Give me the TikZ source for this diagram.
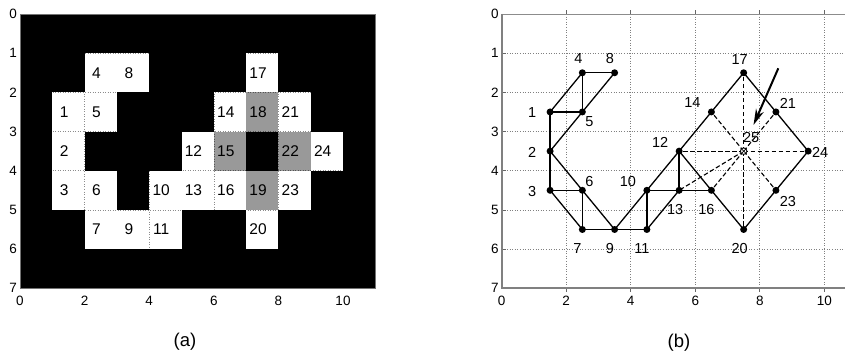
\documentclass[tikz,border=0pt]{standalone}
\usepackage{fontspec}
\setmainfont{Liberation Sans}
\usetikzlibrary{arrows.meta}
\tikzset{
  x=1pt, y=-1pt,
  celltxt/.style={inner sep=0pt, font=\fontsize{15.5}{17}\selectfont},
  ticktxt/.style={inner sep=0pt, font=\fontsize{13.5}{15}\selectfont},
  captxt/.style={inner sep=0pt, font=\fontsize{18.5}{20}\selectfont},
  nodetxt/.style={inner sep=0pt, font=\fontsize{14.5}{16}\selectfont},
  gridA/.style={draw=black, opacity=0.45, dotted, line width=0.5pt},
  gridB/.style={draw=black!50, dotted, line width=0.6pt},
  dot/.style={circle, fill=black, inner sep=0pt, minimum size=7pt},
  hub/.style={circle, draw=black, fill=white, line width=0.9pt, inner sep=0pt, minimum size=6.5pt},
  edge/.style={line width=1.3pt, black},
  dedge/.style={line width=1.1pt, black, dash pattern=on 4.5pt off 2.5pt},
  axisline/.style={draw=black!50, line width=1.6pt},
  tickmark/.style={draw=black!60, line width=0.6pt}
}
\begin{document}
\begin{tikzpicture}
\useasboundingbox (0,0) rectangle (845,358);
\fill[white] (0,0) rectangle (845,358);

% ================= panel (a) =================
\begin{scope}[shift={(20pt,-14pt)}, x=32.3pt, y=-39.18pt]
  \fill[black] (0,0) rectangle (11,7);
  % white cells
  \foreach \c/\r in {2/1,3/1,7/1, 1/2,2/2,6/2,8/2, 1/3,5/3,9/3,
                     1/4,2/4,4/4,5/4,6/4,8/4, 2/5,3/5,4/5,7/5}
    \fill[white] (\c,\r) rectangle ++(1,1);
  % gray cells
  \foreach \c/\r in {7/2, 6/3, 8/3, 7/4}
    \fill[black!40] (\c,\r) rectangle ++(1,1);
  % grid
  \foreach \gx in {2,4,6,8,10} \draw[gridA] (\gx,0) -- (\gx,7);
  \foreach \gy in {1,...,6} \draw[gridA] (0,\gy) -- (11,\gy);
  \draw[draw=black!55, line width=0.6pt] (0,0) rectangle (11,7);
  % cell labels
  \foreach \c/\r/\t in {2/1/4, 3/1/8, 7/1/17,
      1/2/1, 2/2/5, 6/2/14, 7/2/18, 8/2/21,
      1/3/2, 5/3/12, 6/3/15, 8/3/22, 9/3/24,
      1/4/3, 2/4/6, 4/4/10, 5/4/13, 6/4/16, 7/4/19, 8/4/23,
      2/5/7, 3/5/9, 4/5/11, 7/5/20}
    \node[celltxt] (ca\t) at (\c+0.37,\r+0.5) {\t};
  % tick labels
  \foreach \v in {0,...,7}
    \node[ticktxt, anchor=east] (ay\v) at ([xshift=-3pt]0,\v) {\v};
  \foreach \v in {0,2,4,6,8,10}
    \node[ticktxt] (ax\v) at ([yshift=-13pt]\v,7) {\v};
\end{scope}
\node[captxt] (capa) at (185,342) {(a)};

% ================= panel (b) =================
\begin{scope}
\clip (0,0) rectangle (845,358);
\begin{scope}[shift={(501.7pt,-14pt)}, x=32.26pt, y=-39.18pt]
  \foreach \gx in {2,4,6,8,10} \draw[gridB] (\gx,0) -- (\gx,7);
  \foreach \gy in {1,...,6} \draw[gridB] (0,\gy) -- (11,\gy);
  \draw[draw=black!45, line width=0.8pt] (0,0) -- (11,0);
  \foreach \gx in {2,4,6,8,10} {
    \draw[tickmark] (\gx,7) -- ++(0,-4pt);
    \draw[tickmark] (\gx,0) -- ++(0,4pt);
  }
  \foreach \gy in {1,...,6} \draw[tickmark] (0,\gy) -- ++(4pt,0);
  \draw[axisline] (0,0) -- (0,7) -- (11,7);
  % tick labels
  \foreach \v in {0,...,7}
    \node[ticktxt, anchor=east] (by\v) at ([xshift=-3pt]0,\v) {\v};
  \foreach \v in {0,2,4,6,8,10}
    \node[ticktxt] (bx\v) at ([yshift=-13pt]\v,7) {\v};

  % vertices
  \foreach \n/\px/\py in {1/1.5/2.5, 2/1.5/3.5, 3/1.5/4.5, 4/2.5/1.5, 5/2.5/2.5,
      6/2.5/4.5, 7/2.5/5.5, 8/3.5/1.5, 9/3.5/5.5, 10/4.5/4.5, 11/4.5/5.5,
      12/5.5/3.5, 13/5.5/4.5, 14/6.5/2.5, 16/6.5/4.5, 17/7.5/1.5,
      20/7.5/5.5, 21/8.5/2.5, 23/8.5/4.5, 24/9.5/3.5}
    \coordinate (n\n) at (\px,\py);
  \coordinate (n25) at (7.5,3.5);

  % dashed edges to the hub
  \foreach \m in {17,20,12,24,14,23,21,16,13}
    \draw[dedge] (n25) -- (n\m);

  % solid edges
  \foreach \a/\b in {4/8, 1/4, 4/5, 1/5, 5/8, 1/2, 2/3, 2/5, 2/6, 6/9,
      3/6, 3/7, 6/7, 7/9, 9/11, 9/10, 10/12, 10/11, 10/13, 11/13,
      13/16, 12/13, 12/14, 14/17, 12/16, 16/20, 17/21, 21/24, 24/23, 23/20}
    \draw[edge] (n\a) -- (n\b);

  % vertex markers
  \foreach \n in {1,2,3,4,5,6,7,8,9,10,11,12,13,14,16,17,20,21,23,24}
    \node[dot] (d\n) at (n\n) {};
  \node[hub] (d25) at (n25) {};
  \draw[line width=0.7pt] ([shift={(-2.8pt,-2.8pt)}]n25) -- ([shift={(2.8pt,2.8pt)}]n25);
  \draw[line width=0.7pt] ([shift={(-2.8pt,2.8pt)}]n25) -- ([shift={(2.8pt,-2.8pt)}]n25);

  % vertex labels
  \foreach \n/\dx/\dy in {4/-4/14.5, 8/-4.6/14.5, 1/-18/-1, 5/7/-10, 2/-18/-1,
      3/-18/-1, 6/7/9, 7/-5/-19, 9/-4.6/-19, 11/-5/-19, 10/-19/9, 12/-19/8.5,
      13/-4/-19, 16/-5/-19, 14/-19/9, 17/-4/13.5, 21/12/9, 25/7.5/14,
      24/12/-1.5, 23/12/-11, 20/-4/-19}
    \node[nodetxt] (lb\n) at ([shift={(\dx pt,\dy pt)}]n\n) {\n};
\end{scope}
\end{scope}

% arrow pointing at the hub
\coordinate (arrS) at (778.3,68.3);
\coordinate (arrE) at (753.5,125);
\draw[line width=2pt, -{Stealth[length=16pt, width=8.5pt]}] (arrS) -- (arrE);

\node[captxt] (capb) at (679,343) {(b)};
\end{tikzpicture}
\end{document}
